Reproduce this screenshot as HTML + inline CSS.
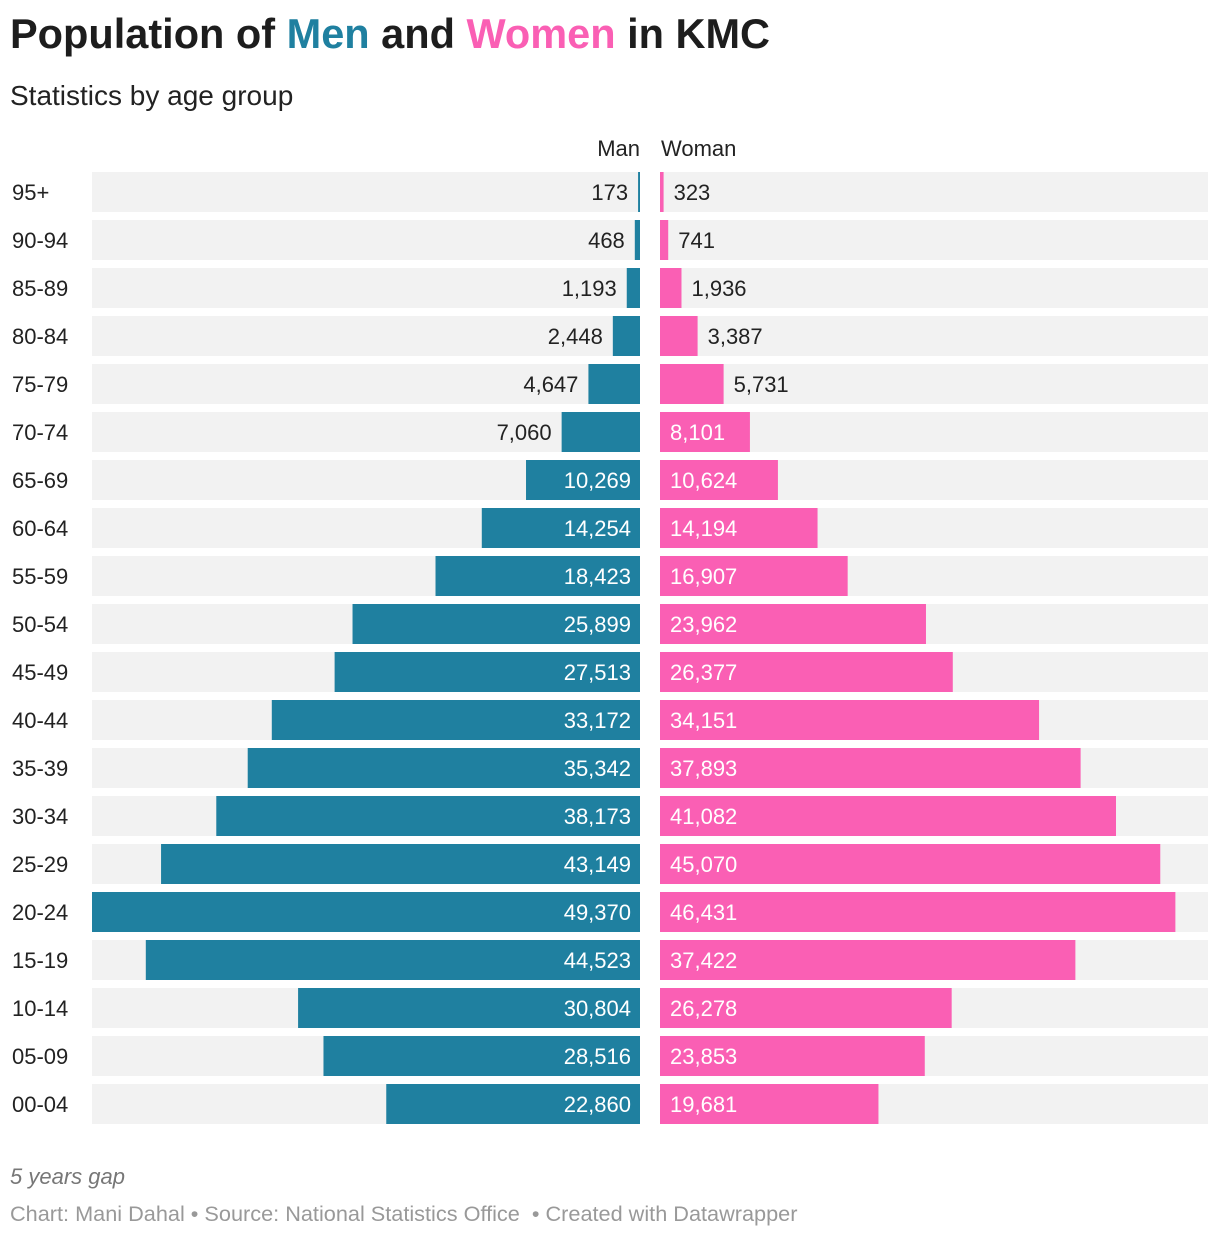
<!DOCTYPE html>
<html><head><meta charset="utf-8"><style>
body{margin:0;background:#fff;font-family:"Liberation Sans",Roboto,sans-serif;width:1220px;height:1238px;overflow:hidden;position:relative;color:#1d1d1d}
.t{position:absolute;white-space:nowrap}
</style></head><body>
<div class="t" style="left:10px;top:10px;font-size:41.5px;font-weight:bold">Population of <span style="color:#1f80a0">Men</span> and <span style="color:#fa5fb4">Women</span> in KMC</div>
<div class="t" style="left:10px;top:80px;font-size:28px;color:#222">Statistics by age group</div>
<svg id="c" width="1220" height="1140" style="position:absolute;left:0;top:0"></svg>
<div class="t" style="left:10px;top:1164px;font-size:22px;font-style:italic;color:#777">5 years gap</div>
<div class="t" style="left:10px;top:1201px;font-size:21.7px;color:#999">Chart: Mani Dahal • Source: National Statistics Office &nbsp;• Created with Datawrapper</div>
<script>
const categories=["95+","90-94","85-89","80-84","75-79","70-74","65-69","60-64","55-59","50-54","45-49","40-44","35-39","30-34","25-29","20-24","15-19","10-14","05-09","00-04"];
const men=[173,468,1193,2448,4647,7060,10269,14254,18423,25899,27513,33172,35342,38173,43149,49370,44523,30804,28516,22860];
const women=[323,741,1936,3387,5731,8101,10624,14194,16907,23962,26377,34151,37893,41082,45070,46431,37422,26278,23853,19681];
const NS="http://www.w3.org/2000/svg",svg=document.getElementById('c');
const maxV=Math.max(...men,...women),W=548,L0=92,L1=640,R0=660;
const sx=v=>v/maxV*W, y=i=>172+i*48, H=40;
function mk(t,a,txt){const e=document.createElementNS(NS,t);for(const k in a)e.setAttribute(k,a[k]);if(txt!=null)e.textContent=txt;svg.appendChild(e);return e;}
const fmt=v=>v.toLocaleString('en-US');
let e=mk('text',{x:640,y:156,'text-anchor':'end','font-size':22,fill:'#222'},'Man');


e=mk('text',{x:661,y:156,'font-size':22,fill:'#222'},'Woman');


categories.forEach((c,i)=>{
  const yy=y(i);
  let t=mk('text',{x:12,y:yy+28,'font-size':22,fill:'#222'},c);
  
  
  let b=mk('rect',{x:L0,y:yy,width:W,height:H,fill:'#f2f2f2'});
  
  
  b=mk('rect',{x:R0,y:yy,width:W,height:H,fill:'#f2f2f2'});
  
  
  const mw=sx(men[i]);
  b=mk('rect',{x:L1-mw,y:yy,width:mw,height:H,fill:'#1f80a0'});
  
  
  const mIn=mw>85;
  t=mk('text',{x:mIn?L1-9:L1-mw-10,y:yy+28,'text-anchor':'end','font-size':22,fill:mIn?'#fff':'#222'},fmt(men[i]));
  
  
  const ww=sx(women[i]);
  b=mk('rect',{x:R0,y:yy,width:ww,height:H,fill:'#fa5fb4'});
  
  
  const wIn=ww>85;
  t=mk('text',{x:wIn?R0+10:R0+ww+10,y:yy+28,'font-size':22,fill:wIn?'#fff':'#222'},fmt(women[i]));
  
  
});
</script>
</body></html>
